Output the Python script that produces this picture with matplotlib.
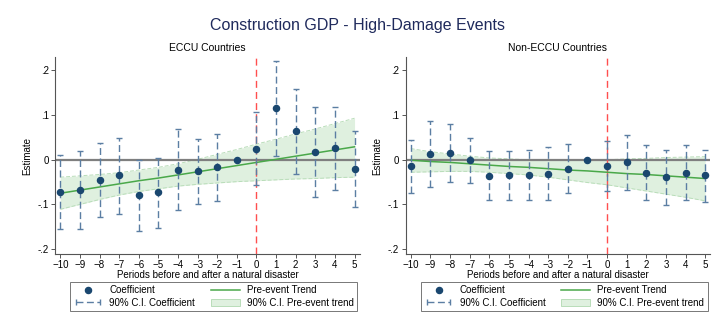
import numpy as np
import matplotlib
matplotlib.use("Agg")
import matplotlib.pyplot as plt
from matplotlib.lines import Line2D
from matplotlib.patches import Patch
from matplotlib.legend_handler import HandlerLine2D

plt.rcParams['font.family'] = ['Liberation Sans', 'DejaVu Sans']

periods = list(range(-10, 6))

# ECCU countries
eccu_coef = [-0.073, -0.068, -0.046, -0.035, -0.079, -0.073, -0.022, -0.025,
             -0.017, 0.0, 0.025, 0.115, 0.064, 0.017, 0.026, -0.020]
eccu_hi = [0.011, 0.019, 0.037, 0.049, 0.000, 0.005, 0.068, 0.047,
           0.058, None, 0.106, 0.222, 0.159, 0.118, 0.118, 0.064]
eccu_lo = [-0.156, -0.155, -0.129, -0.121, -0.160, -0.153, -0.112, -0.098,
           -0.092, None, -0.056, 0.009, -0.031, -0.084, -0.067, -0.106]
eccu_trend = [-0.075, -0.068, -0.061, -0.054, -0.047, -0.041, -0.034, -0.027,
              -0.020, -0.013, -0.006, 0.001, 0.008, 0.015, 0.022, 0.029]
eccu_band_lo = [-0.111, -0.100, -0.089, -0.079, -0.071, -0.065, -0.059, -0.055,
                -0.052, -0.049, -0.047, -0.045, -0.043, -0.042, -0.040, -0.039]
eccu_band_hi = [-0.039, -0.036, -0.033, -0.029, -0.023, -0.017, -0.009, 0.001,
                0.012, 0.023, 0.035, 0.046, 0.058, 0.069, 0.081, 0.093]

# Non-ECCU countries
non_coef = [-0.015, 0.013, 0.016, -0.001, -0.036, -0.035, -0.034, -0.031,
            -0.021, 0.0, -0.015, -0.004, -0.030, -0.039, -0.029, -0.035]
non_hi = [0.045, 0.087, 0.079, 0.048, 0.019, 0.019, 0.021, 0.029,
          0.035, None, 0.041, 0.055, 0.032, 0.022, 0.032, 0.022]
non_lo = [-0.075, -0.060, -0.049, -0.051, -0.091, -0.090, -0.089, -0.091,
          -0.075, None, -0.071, -0.067, -0.091, -0.102, -0.091, -0.094]
non_trend = [-0.001, -0.004, -0.006, -0.009, -0.012, -0.015, -0.017, -0.020,
             -0.023, -0.025, -0.028, -0.031, -0.033, -0.036, -0.039, -0.042]
non_band_lo = [-0.028, -0.027, -0.026, -0.026, -0.028, -0.031, -0.034, -0.039,
               -0.045, -0.051, -0.056, -0.063, -0.070, -0.077, -0.084, -0.092]
non_band_hi = [0.025, 0.018, 0.013, 0.008, 0.004, 0.002, 0.000, -0.001,
               -0.001, -0.001, 0.000, 0.002, 0.003, 0.005, 0.006, 0.007]

NAVY = '#1a476f'
CI_COL = '#5b7ea3'
GREEN = '#4aa84a'
BAND = '#dff0df'
BAND_EDGE = '#b9ddb9'


def draw_panel(ax, title, coef, lo, hi, trend, blo, bhi):
    x = np.array(periods)
    ax.fill_between(x, blo, bhi, color=BAND, lw=0, zorder=1)
    ax.plot(x, blo, color=BAND_EDGE, lw=0.7, ls=(0, (4, 2)), zorder=1.1)
    ax.plot(x, bhi, color=BAND_EDGE, lw=0.7, ls=(0, (4, 2)), zorder=1.1)
    ax.axhline(0, color='#7f7f7f', lw=1.6, zorder=2)
    ax.axvline(0, color='#ff4f4f', lw=1.0, ls=(0, (5, 3)), zorder=2.5)
    ax.plot(x, trend, color=GREEN, lw=1.1, zorder=3)

    # confidence intervals (skip the reference period)
    keep = [i for i in range(len(x)) if lo[i] is not None]
    xs = x[keep]
    los = np.array([lo[i] for i in keep])
    his = np.array([hi[i] for i in keep])
    ax.vlines(xs, los, his, colors=CI_COL, lw=1.0, linestyles=(0, (5, 2.5)), zorder=4)
    ax.plot(xs, his, ls='none', marker='_', ms=4.5, mew=1.0, color=CI_COL, zorder=4)
    ax.plot(xs, los, ls='none', marker='_', ms=4.5, mew=1.0, color=CI_COL, zorder=4)

    ax.plot(x, coef, ls='none', marker='o', ms=4.4, color=NAVY, zorder=5)

    ax.set_xlim(-10.27, 5.27)
    ax.set_ylim(-0.211, 0.230)
    ax.set_xticks(periods)
    ax.set_yticks([-0.2, -0.1, 0, 0.1, 0.2])
    ax.set_yticklabels(['-.2', '-.1', '0', '.1', '.2'])
    for s in ['top', 'right']:
        ax.spines[s].set_visible(False)
    for s in ['left', 'bottom']:
        ax.spines[s].set_color('#555555')
        ax.spines[s].set_linewidth(0.8)
    ax.tick_params(labelsize=7, length=3, width=0.7, color='#555555', pad=1.5)
    ax.set_title(title, fontsize=7.5, pad=4)
    ax.set_ylabel('Estimate', fontsize=7, labelpad=4)
    ax.set_xlabel('Periods before and after a natural disaster', fontsize=7, labelpad=0)

    h_coef = Line2D([], [], ls='none', marker='o', ms=4.4, color=NAVY)
    h_ci = Line2D([0, 1], [0, 0], ls=(0, (5, 2.5)), lw=1.0, color=CI_COL,
                  marker='|', ms=4.5, mew=1.0)
    h_trend = Line2D([], [], color=GREEN, lw=1.1)
    h_band = Patch(facecolor=BAND, edgecolor=BAND_EDGE, lw=0.7)
    leg = ax.legend([h_coef, h_ci, h_trend, h_band],
                    ['Coefficient', '90% C.I. Coefficient',
                     'Pre-event Trend', '90% C.I. Pre-event trend'],
                    ncol=2, loc='upper center', bbox_to_anchor=(0.52, -0.14),
                    fontsize=7, frameon=True, fancybox=False, edgecolor='#555555',
                    handlelength=3.0, handletextpad=0.7, columnspacing=1.6,
                    borderpad=0.35, labelspacing=0.3, borderaxespad=0,
                    handler_map={h_ci: HandlerLine2D(numpoints=2)})
    leg.get_frame().set_linewidth(0.7)


fig = plt.figure(figsize=(7.14, 3.25), dpi=100)
fig.patch.set_facecolor('white')
ax1 = fig.add_axes([0.077, 0.2185, 0.427, 0.606])
ax2 = fig.add_axes([0.568, 0.2185, 0.427, 0.606])

draw_panel(ax1, 'ECCU Countries', eccu_coef, eccu_lo, eccu_hi,
           eccu_trend, eccu_band_lo, eccu_band_hi)
draw_panel(ax2, 'Non-ECCU Countries', non_coef, non_lo, non_hi,
           non_trend, non_band_lo, non_band_hi)

fig.text(0.5, 0.923, 'Construction GDP - High-Damage Events', ha='center', va='center',
         fontsize=11.5, color='#1f2a5c')

fig.savefig('out.png', dpi=100)
